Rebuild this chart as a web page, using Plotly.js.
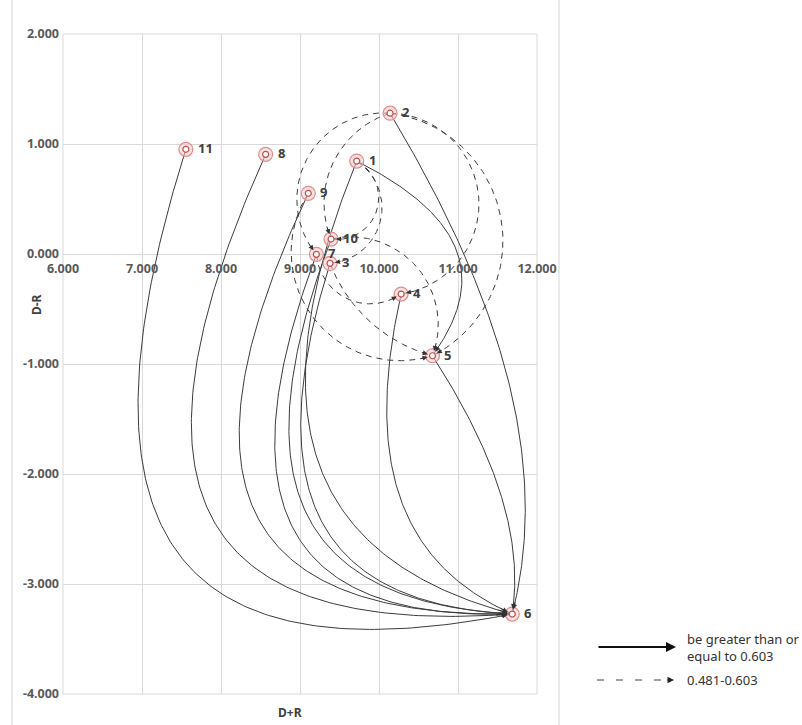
<!DOCTYPE html>
<html><head><meta charset="utf-8">
<script src="https://cdn.plot.ly/plotly-3.0.1.min.js"></script>
<style>html,body{margin:0;padding:0;background:#fff}</style>
</head><body><div id="chart" style="width:802px;height:725px"></div>
<script>
// ---- data ----
const nodeIds = ['1','2','3','4','5','6','7','8','9','10','11'];
const nodeX   = [9.718, 10.14, 9.380, 10.28, 10.677, 11.687, 9.207, 8.565, 9.105, 9.393, 7.555]; // D+R
const nodeY   = [0.845, 1.28, -0.085, -0.364, -0.925, -3.273, -0.003, 0.906, 0.552, 0.136, 0.952]; // D-R

// relations >= 0.603 (solid)
const strongFrom = ['11','8','9','7','10','3','1','4','5','2','1'];
const strongTo   = ['6','6','6','6','6','6','6','6','6','6','5'];
// relations 0.481-0.603 (dashed)
const weakFrom = ['2','2','9','2','2','1','1','10','7','3'];
const weakTo   = ['5','4','5','7','10','10','3','5','4','5'];

const xTicks = [6,7,8,9,10,11,12];
const yTicks = [-4,-3,-2,-1,0,1,2];
const legendLabels = ['be greater than or<br>equal to 0.603', '0.481-0.603'];

// ---- style (bend of each curve, max offset / chord in screen space) ----
const strongBend = [-0.42,-0.42,-0.40,-0.37,-0.34,-0.32,-0.28,-0.20,0.09,0.10,0.29];
const weakBend   = [0.37,0.46,-0.35,-0.33,-0.22,0.42,0.36,0.30,-0.29,-0.12];

const KX = 474/6, KY = 660/6; // px per unit
function idx(id){ return nodeIds.indexOf(id); }

function finish(X,Y){
  let acc=0, k=X.length-1;
  while(k>0 && acc<12){ acc+=Math.hypot(X[k]-X[k-1],Y[k]-Y[k-1]); k--; }
  return {xs:X.map(v=>v/KX), ys:Y.map(v=>v/KY), bx:X[k]/KX, by:Y[k]/KY};
}
function arc(x0,y0,x1,y1,s,n){
  const X0=x0*KX, Y0=y0*KY, X1=x1*KX, Y1=y1*KY;
  const dx=X1-X0, dy=Y1-Y0, L=Math.hypot(dx,dy);
  const nx=-dy/L, ny=dx/L, mx=(X0+X1)/2, my=(Y0+Y1)/2;
  const h=s*L;
  const Bx=mx+nx*h, By=my+ny*h;
  const r=(h*h+L*L/4)/(2*Math.abs(h));
  const sg=Math.sign(h);
  const Cx=Bx-nx*sg*r, Cy=By-ny*sg*r;
  const a0=Math.atan2(Y0-Cy,X0-Cx), aB=Math.atan2(By-Cy,Bx-Cx);
  let d=aB-a0; while(d>Math.PI)d-=2*Math.PI; while(d<=-Math.PI)d+=2*Math.PI;
  const tot=2*d, X=[], Y=[];
  for(let i=0;i<=n;i++){const a=a0+tot*i/n; X.push(Cx+r*Math.cos(a)); Y.push(Cy+r*Math.sin(a));}
  return finish(X,Y);
}
function bez(x0,y0,x1,y1,s,n){
  const X0=x0*KX, Y0=y0*KY, X1=x1*KX, Y1=y1*KY;
  const dx=X1-X0, dy=Y1-Y0, L=Math.hypot(dx,dy);
  const nx=-dy/L, ny=dx/L, v=s*L/0.75, u1=0.43, u2=0.75;
  const c1x=X0+u1*dx+nx*v, c1y=Y0+u1*dy+ny*v, c2x=X0+u2*dx+nx*v, c2y=Y0+u2*dy+ny*v;
  const X=[], Y=[];
  for(let i=0;i<=n;i++){const t=i/n, a=(1-t)*(1-t)*(1-t), b=3*(1-t)*(1-t)*t, c=3*(1-t)*t*t, e=t*t*t;
    X.push(a*X0+b*c1x+c*c2x+e*X1); Y.push(a*Y0+b*c1y+c*c2y+e*Y1);}
  return finish(X,Y);
}

const traces=[], annotations=[], shapes=[];
function addEdges(from,to,bend,dash,fn){
  for(let k=0;k<from.length;k++){
    const i=idx(from[k]), j=idx(to[k]);
    const c=fn(nodeX[i],nodeY[i],nodeX[j],nodeY[j],bend[k],160);
    traces.push({type:'scatter',mode:'lines',x:c.xs,y:c.ys,hoverinfo:'skip',showlegend:false,
      line:{color:'#3c3c3c',width:1,dash:dash}});
    annotations.push({x:nodeX[j],y:nodeY[j],ax:c.bx,ay:c.by,xref:'x',yref:'y',axref:'x',ayref:'y',
      showarrow:true,arrowhead:2,arrowsize:1,arrowwidth:1,arrowcolor:'#333',standoff:5,text:''});
  }
}
addEdges(strongFrom,strongTo,strongBend,'solid',bez);
addEdges(weakFrom,weakTo,weakBend,'6px,5px',arc);

traces.push({type:'scatter',mode:'markers',x:nodeX,y:nodeY,hoverinfo:'skip',showlegend:false,
  marker:{size:14,color:'rgba(244,200,200,0.55)',line:{color:'#e08c8c',width:1.2}}});
traces.push({type:'scatter',mode:'markers',x:nodeX,y:nodeY,hoverinfo:'skip',showlegend:false,
  marker:{size:6,color:'#ffffff',line:{color:'#c0504d',width:1.2}}});

const lblFont={family:'Noto Sans, sans-serif',size:13,color:'#404040',weight:'bold'};
for(let i=0;i<nodeIds.length;i++){
  annotations.push({x:nodeX[i],y:nodeY[i],xref:'x',yref:'y',text:nodeIds[i],showarrow:false,
    xanchor:'left',yanchor:'middle',xshift:10,yshift:1,font:lblFont});
}

const tickFont={family:'Noto Sans, sans-serif',size:12.5,color:'#595959',weight:'bold'};
annotations.push({xref:'paper',yref:'paper',x:(290-63)/474,y:(694-712)/660,xanchor:'center',yanchor:'middle',
  text:'D+R',showarrow:false,font:{family:'Noto Sans, sans-serif',size:12,color:'#404040',weight:'bold'}});
annotations.push({xref:'paper',yref:'paper',x:(36-63)/474,y:(694-305)/660,xanchor:'center',yanchor:'middle',
  text:'D-R',textangle:-90,showarrow:false,font:{family:'Noto Sans, sans-serif',size:12,color:'#404040',weight:'bold'}});

// legend
const px=(p)=>(p-63)/474, py=(p)=>(694-p)/660;
annotations.push({xref:'paper',yref:'paper',x:px(676),y:py(647),ax:-79,ay:0,showarrow:true,
  arrowhead:2,arrowsize:1,arrowwidth:2,arrowcolor:'#111',text:''});
shapes.push({type:'line',xref:'paper',yref:'paper',x0:px(597),x1:px(668),y0:py(680),y1:py(680),
  line:{color:'#444',width:1,dash:'7px,12px'}});
annotations.push({xref:'paper',yref:'paper',x:px(674),y:py(680),ax:-8,ay:0,showarrow:true,
  arrowhead:2,arrowsize:1,arrowwidth:1.3,arrowcolor:'#222',text:''});
annotations.push({xref:'paper',yref:'paper',x:px(685),y:py(647),xanchor:'left',yanchor:'middle',align:'left',
  text:legendLabels[0],showarrow:false,font:{family:'Noto Sans, sans-serif',size:13,color:'#333'}});
annotations.push({xref:'paper',yref:'paper',x:px(685),y:py(680),xanchor:'left',yanchor:'middle',align:'left',
  text:legendLabels[1],showarrow:false,font:{family:'Noto Sans, sans-serif',size:13,color:'#333'}});

// frame lines and plot border
shapes.push({type:'line',xref:'paper',yref:'paper',x0:px(12),x1:px(12),y0:py(0),y1:py(725),line:{color:'#e3e3e3',width:1.5},layer:'below'});
shapes.push({type:'line',xref:'paper',yref:'paper',x0:px(559),x1:px(559),y0:py(0),y1:py(725),line:{color:'#e3e3e3',width:1.5},layer:'below'});
shapes.push({type:'rect',xref:'paper',yref:'paper',x0:0,x1:1,y0:0,y1:1,line:{color:'#d9d9d9',width:1},layer:'below'});

const layout={
  width:802,height:725,margin:{l:63,r:265,t:34,b:31},
  paper_bgcolor:'#fff',plot_bgcolor:'#fff',showlegend:false,
  xaxis:{range:[6,12],tickvals:xTicks,ticktext:xTicks.map(v=>v.toFixed(3)),showgrid:true,gridcolor:'#d9d9d9',
    zeroline:false,showline:false,anchor:'free',position:4/6,ticks:'',ticklabelstandoff:5,tickfont:tickFont,fixedrange:true},
  yaxis:{range:[-4,2],tickvals:yTicks,ticktext:yTicks.map(v=>v.toFixed(3)),showgrid:true,gridcolor:'#d9d9d9',
    zeroline:false,showline:false,ticks:'',ticklabelstandoff:3,tickfont:tickFont,fixedrange:true},
  annotations:annotations,shapes:shapes
};
Plotly.newPlot('chart',traces,layout,{displayModeBar:false,staticPlot:true});
</script></body></html>
